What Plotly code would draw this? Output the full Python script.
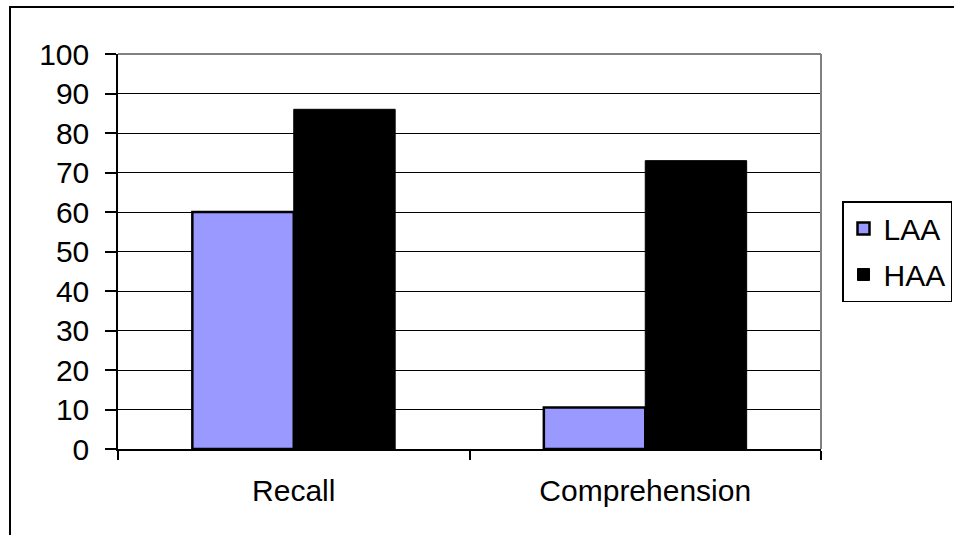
import plotly.graph_objects as go

categories = ["Recall", "Comprehension"]
laa_values = [60, 10.5]
haa_values = [86, 73]
series_names = ["LAA", "HAA"]
y_ticks = [0, 10, 20, 30, 40, 50, 60, 70, 80, 90, 100]

W, H = 954, 535
L, R, T, B = 118, 821, 54, 449
pw, ph = R - L, B - T

def px(x):
    return (x - L) / pw

def py(y):
    return (B - y) / ph

FONT = "Liberation Sans, Arial, sans-serif"

fig = go.Figure()
fig.add_trace(go.Bar(
    x=categories, y=laa_values, name=series_names[0], legendgroup="a",
    marker=dict(color="#9999FF", line=dict(color="black", width=2.5)),
))
fig.add_trace(go.Bar(
    x=categories, y=haa_values, name=series_names[1], legendgroup="b",
    marker=dict(color="black", line=dict(color="black", width=1)),
))

fig.update_layout(
    width=W, height=H,
    margin=dict(l=L, r=W - R, t=T, b=H - B, pad=0, autoexpand=False),
    paper_bgcolor="white", plot_bgcolor="white",
    barmode="group", bargap=0.423, bargroupgap=0,
    font=dict(family=FONT, size=30, color="black"),
    showlegend=True,
    legend=dict(
        xref="container", yref="container",
        x=842 / W, y=1 - 201 / H, xanchor="left", yanchor="top",
        bordercolor="black", borderwidth=1.5, bgcolor="white",
        font=dict(size=30), traceorder="grouped", tracegroupgap=4,
    ),
    xaxis=dict(
        showline=True, linecolor="black", linewidth=1.5,
        ticks="outside", ticklen=9, tickcolor="black", tickwidth=1.5,
        tickson="boundaries", showgrid=False, ticklabelstandoff=14,
        tickfont=dict(size=30),
    ),
    yaxis=dict(
        range=[0, 100], tickvals=y_ticks, ticktext=[str(v) for v in y_ticks],
        showline=True, linecolor="black", linewidth=1.5,
        ticks="outside", ticklen=11, tickcolor="black", tickwidth=1.5,
        showgrid=True, gridcolor="black", gridwidth=1, zeroline=False,
        ticklabelstandoff=10, tickfont=dict(size=30),
    ),
    shapes=[
        dict(type="line", xref="paper", yref="paper", x0=0, x1=1, y0=1, y1=1,
             line=dict(color="#808080", width=2), layer="above"),
        dict(type="line", xref="paper", yref="paper", x0=1, x1=1, y0=0, y1=1,
             line=dict(color="#808080", width=2), layer="above"),
        dict(type="rect", xref="paper", yref="paper",
             x0=px(10), x1=px(965), y0=py(550), y1=py(7),
             line=dict(color="black", width=2), layer="below"),
    ],
)

fig.write_html("out.html", config={"displayModeBar": False},
               post_script="document.body.style.margin='0px';")
